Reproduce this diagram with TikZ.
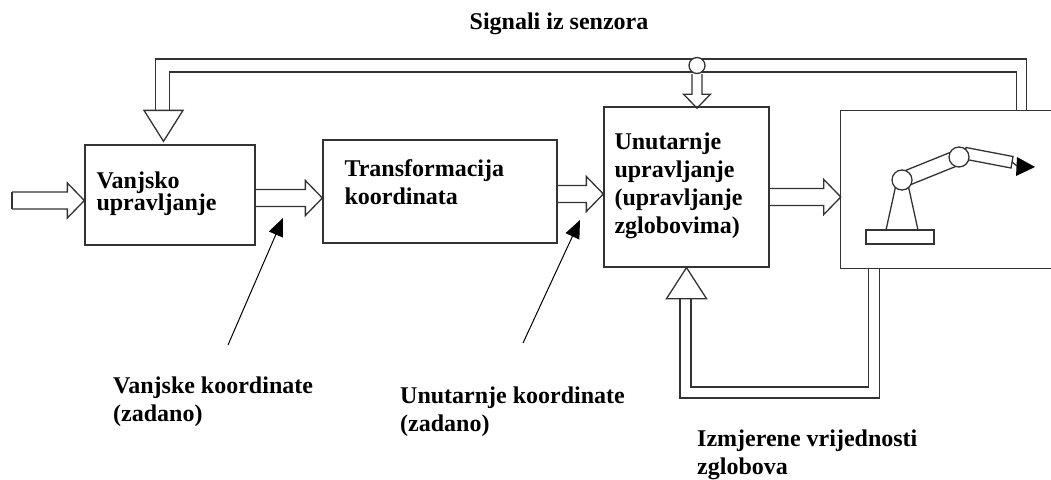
\documentclass[tikz,border=0pt]{standalone}
\usepackage{fontspec}
\setmainfont{Liberation Serif}
\usetikzlibrary{arrows.meta,calc}

\newcommand{\blockarrow}[3]{%
  \draw[pipe] let \p1=(#1), \p2=(#2), \p3=(0,#3) in
    (\x1,\y3+8.5) -- (\x2-17,\y3+8.5) -- (\x2-17,\y3+17.5) -- (\x2,\y3)
    -- (\x2-17,\y3-17.5) -- (\x2-17,\y3-8.5) -- (\x1,\y3-8.5);}

\begin{document}
\begin{tikzpicture}[x=1pt, y=-1pt,
  box/.style={draw=black!80, line width=1.3pt},
  pipe/.style={draw=black!80, line width=1.3pt},
  hollow/.style={draw=black!80, line width=1.3pt, fill=white},
  tap/.style={draw=black!80, line width=1.3pt, circle, fill=white, minimum size=16pt, inner sep=0pt},
  boxtext/.style={anchor=north west, inner sep=0pt, align=left, font=\fontsize{24}{28}\selectfont\bfseries},
  note/.style={anchor=north west, inner sep=0pt, align=left, font=\fontsize{24}{28}\selectfont\bfseries},
  pointer/.style={line width=1pt, -{Triangle[length=18pt, width=15pt]}}]
  \useasboundingbox (0,0) rectangle (1051,479);

  \node (VU) at (170,195) [box, minimum width=170pt, minimum height=100pt] {};
  \node (TK) at (440,191.5) [box, minimum width=234pt, minimum height=103pt] {};
  \node (UU) at (686.5,187) [box, minimum width=165pt, minimum height=160pt] {};
  \node (RB) at (946,189.5) [minimum width=210pt, minimum height=157pt, inner sep=0pt] {};
  \draw[box] (RB.north east) -- (RB.north west) -- (RB.south west) -- (RB.south east);

  \node (VUt) at ([shift={(12,27.5)}]VU.north west) [boxtext] {Vanjsko\\[-6pt]upravljanje};
  \node (TKt) at ([shift={(22,20.5)}]TK.north west) [boxtext] {Transformacija\\koordinata};
  \node (UUt) at ([shift={(11,26.5)}]UU.north west) [boxtext] {Unutarnje\\upravljanje\\(upravljanje\\zglobovima)};

  % block arrows
  \coordinate (IN) at (12,200.5);
  \blockarrow{IN}{VU.west}{200.5}
  \draw[pipe] (IN) ++(0,-8.5) -- ++(0,17);
  \blockarrow{VU.east}{TK.west}{198}
  \blockarrow{TK.east}{UU.west}{194}
  \blockarrow{UU.east}{RB.west}{197}

  % sensor feedback
  \draw[pipe] (RB.north west) ++(186,0) |- (155.7,59) -- (155.7,111);
  \draw[pipe] (RB.north west) ++(176,0) |- (169.3,72) -- (169.3,111);
  \draw[hollow] ([shift={(-6.5,-3)}]VU.north) -- ++(-19.5,-31) -- ++(39,0) -- cycle;
  \node (SJ) at (697,65.5) [tap] {};
  \draw[pipe] (SJ.south) ++(-5,0) -- ++(0,20) -- ++(-8.5,0) -- ++(13.5,14) -- ++(13.5,-14) -- ++(-8.5,0) -- ++(0,-20);

  % joint feedback
  \draw[pipe] (RB.south west) ++(28,0) |- (691,387) -- (691,298);
  \draw[pipe] (RB.south west) ++(39,0) |- (680,398) -- (680,298);
  \draw[hollow] (UU.south) -- ++(20,31) -- ++(-40,0) -- cycle;

  % robot
  \draw[pipe] (866,230) rectangle (934,244);
  \draw[pipe] (886,230) -- (897,180) (918,230) -- (907,180);
  \draw[pipe] (899.2,173) -- (956.2,150) (904.8,187) -- (961.8,164);
  \draw[pipe, fill=white] (966,147.5) -- (1013,156.5) -- (1011,168) -- (964,159) -- cycle;
  \draw[pipe] (1012,162) -- (1017,166);
  \fill (1017,157) -- (1035,167) -- (1016,176) -- cycle;
  \node (J1) at (902,180) [tap, minimum size=20pt] {};
  \node (J2) at (959,157) [tap, minimum size=20pt] {};

  % labels
  \node (SG) at (559,29) [note, anchor=base] {Signali iz senzora};
  \node (VK) at (113,376.5) [note] {Vanjske koordinate\\(zadano)};
  \node (UK) at (400,386.5) [note] {Unutarnje koordinate\\(zadano)};
  \node (IV) at (697,429.5) [note] {Izmjerene vrijednosti\\zglobova};
  \coordinate (VKs) at (228,345);
  \coordinate (VKe) at (283,218);
  \coordinate (UKs) at (523,343);
  \coordinate (UKe) at (580,220);
  \draw[pointer] (VKs) -- (VKe);
  \draw[pointer] (UKs) -- (UKe);
\end{tikzpicture}
\end{document}
